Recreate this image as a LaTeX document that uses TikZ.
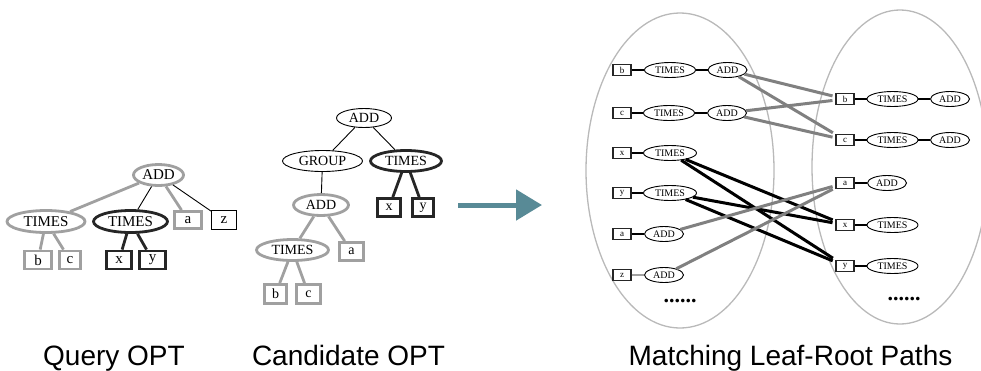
\documentclass[tikz,border=0pt]{standalone}
\usepackage{fontspec}
\setmainfont{Liberation Serif}
\setsansfont{Liberation Sans}
\usetikzlibrary{shapes.geometric,arrows.meta}
\definecolor{tgray}{RGB}{160,160,160}
\definecolor{tdark}{RGB}{38,38,38}
\definecolor{lgray}{RGB}{128,128,128}
\definecolor{ovalc}{RGB}{185,185,185}
\definecolor{arrowc}{RGB}{88,138,150}
\begin{document}
\begin{tikzpicture}[x=1pt,y=-1pt,
  tnode/.style={inner sep=0pt, font=\fontsize{14}{14}\selectfont},
  qfont/.style={font=\fontsize{15}{15}\selectfont},
  sz/.style 2 args={minimum width=#1pt, minimum height=#2pt},
  gel/.style={tnode, ellipse, draw=tgray, line width=2.8pt},
  del/.style={tnode, ellipse, draw=tdark, line width=2.8pt},
  nel/.style={tnode, ellipse, draw=black, line width=0.9pt},
  gbox/.style={tnode, rectangle, draw=tgray, line width=2.8pt},
  dbox/.style={tnode, rectangle, draw=tdark, line width=2.8pt},
  nbox/.style={tnode, rectangle, draw=black, line width=0.9pt},
  gthick/.style={draw=tgray, line width=2.8pt},
  dthick/.style={draw=tdark, line width=2.8pt},
  thin/.style={draw=black, line width=0.9pt},
  pnode/.style={inner sep=0pt, font=\fontsize{10}{10}\selectfont, draw=black, line width=0.9pt},
  pel/.style={pnode, ellipse, sz={#1}{15}},
  pbox/.style={pnode, rectangle, draw=tdark, line width=1.1pt, sz={18}{11.5}, font=\fontsize{9}{9}\selectfont},
  rowline/.style={draw=black, line width=1.2pt},
  graylink/.style={draw=lgray, line width=3pt, shorten >=3pt},
  blacklink/.style={draw=black, line width=3pt, shorten >=3pt},
  oval/.style={draw=ovalc, line width=1.3pt},
  dots/.style={inner sep=0pt, font=\fontsize{22}{22}\selectfont\bfseries},
  caption/.style={anchor=base, inner sep=0pt, font=\sffamily\fontsize{28}{28}\selectfont}
]
\useasboundingbox (0,0) rectangle (981,370);

% ---------- query tree ----------
\node[gel, qfont, sz={50}{21}] (qadd) at (158.5,175) {ADD};
\node[gel, qfont, sz={78}{22}] (qt1) at (46,221.5) {TIMES};
\node[del, qfont, sz={74}{22}] (qt2) at (130.5,221.5) {TIMES};
\node[gbox, qfont, sz={27}{17}] (qa) at (188,220) {a};
\node[nbox, qfont, sz={25}{19}] (qz) at (224,220) {z};
\node[gbox, qfont, sz={27}{18}] (qb) at (38,260) {b};
\node[gbox, qfont, sz={21}{18}] (qc) at (70,260) {c};
\node[dbox, qfont, sz={25}{18}] (qx) at (119,260) {x};
\node[dbox, qfont, sz={26}{18}] (qy) at (152.5,260) {y};
\draw[gthick] (qadd) -- (qt1);
\draw[thin] (qadd) -- (qt2);
\draw[gthick] (qadd) -- (qa);
\draw[thin] (qadd) -- (qz);
\draw[gthick] (qt1) -- (qb);
\draw[gthick] (qt1) -- (qc);
\draw[dthick] (qt2) -- (qx);
\draw[dthick] (qt2) -- (qy);

% ---------- candidate tree ----------
\node[nel, sz={55}{19}] (cadd) at (364,118) {ADD};
\node[nel, sz={80}{21}] (cgrp) at (322.5,161) {GROUP};
\node[del, sz={71}{21}] (ct) at (406,161) {TIMES};
\node[gel, sz={55}{21}] (cadd2) at (321,205) {ADD};
\node[gel, sz={72}{21}] (ct2) at (292.5,250) {TIMES};
\node[gbox, sz={24}{18}] (ca) at (351.5,251.5) {a};
\node[dbox, sz={23}{18}] (cx) at (389,207.5) {x};
\node[dbox, sz={21}{18}] (cy) at (423,207.5) {y};
\node[gbox, sz={22}{19}] (cb) at (275.5,294) {b};
\node[gbox, sz={24}{19}] (cc) at (308.5,294) {c};
\draw[thin] (cadd) -- (cgrp);
\draw[thin] (cadd) -- (ct);
\draw[thin] (cgrp) -- (cadd2);
\draw[gthick] (cadd2) -- (ct2);
\draw[gthick] (cadd2) -- (ca);
\draw[gthick] (ct2) -- (cb);
\draw[gthick] (ct2) -- (cc);
\draw[dthick] (ct) -- (cx);
\draw[dthick] (ct) -- (cy);

% ---------- arrow ----------
\coordinate (arrs) at (458,205);
\coordinate (arre) at (542,205);
\draw[draw=arrowc, line width=5pt, -{Triangle[length=26pt, width=30pt, fill=arrowc]}] (arrs) -- (arre);

% ---------- leaf-root paths ----------
\draw[oval] (680,170.5) ellipse [x radius=94, y radius=157.5];
\draw[oval] (900,167) ellipse [x radius=88, y radius=157];

% left side paths
\node[pbox] (l1b) at (622,70) {b};
\node[pel=51] (l1t) at (670,70) {TIMES};
\node[pel=39] (l1a) at (727.5,70) {ADD};
\node[pbox] (l2b) at (622,113) {c};
\node[pel=51] (l2t) at (669,113) {TIMES};
\node[pel=39] (l2a) at (727,113) {ADD};
\node[pbox] (l3x) at (622,153) {x};
\node[pel=53] (l3t) at (670,153) {TIMES};
\node[pbox] (l4y) at (622,193) {y};
\node[pel=53] (l4t) at (670,193) {TIMES};
\node[pbox] (l5a) at (622,234) {a};
\node[pel=39] (l5d) at (664,234) {ADD};
\node[pbox] (l6z) at (622,275) {z};
\node[pel=39] (l6d) at (664,275) {ADD};
\draw[rowline] (l1b) -- (l1t) -- (l1a);
\draw[rowline] (l2b) -- (l2t) -- (l2a);
\draw[rowline] (l3x) -- (l3t);
\draw[rowline] (l4y) -- (l4t);
\draw[rowline] (l5a) -- (l5d);
\draw[draw=tgray, line width=1.2pt] (l6z) -- (l6d);
\node[dots] (ldots) at (680,301) {......};

% right side paths
\node[pbox] (r1b) at (845,99) {b};
\node[pel=51] (r1t) at (892.5,99) {TIMES};
\node[pel=39] (r1a) at (950,99) {ADD};
\node[pbox] (r2c) at (845,140) {c};
\node[pel=51] (r2t) at (892.5,140) {TIMES};
\node[pel=39] (r2a) at (950,140) {ADD};
\node[pbox] (r3a) at (845,183) {a};
\node[pel=39] (r3d) at (887,183) {ADD};
\node[pbox] (r4x) at (845,225) {x};
\node[pel=51] (r4t) at (892.5,225) {TIMES};
\node[pbox] (r5y) at (845,266) {y};
\node[pel=51] (r5t) at (892.5,266) {TIMES};
\draw[rowline] (r1b) -- (r1t) -- (r1a);
\draw[rowline] (r2c) -- (r2t) -- (r2a);
\draw[rowline] (r3a) -- (r3d);
\draw[rowline] (r4x) -- (r4t);
\draw[rowline] (r5y) -- (r5t);
\node[dots] (rdots) at (904,299) {......};

% matches between the two sides
\draw[graylink] (l1a) -- (r1b);
\draw[graylink] (l1a) -- (r2c);
\draw[graylink] (l2a) -- (r1b);
\draw[graylink] (l2a) -- (r2c);
\draw[blacklink] (l3t) -- (r4x);
\draw[blacklink] (l3t) -- (r5y);
\draw[blacklink] (l4t) -- (r4x);
\draw[blacklink] (l4t) -- (r5y);
\draw[graylink] (l5d) -- (r3a);
\draw[graylink] (l6d) -- (r3a);

% ---------- captions ----------
\node[caption] (capq) at (114,365) {Query OPT};
\node[caption] (capc) at (348.5,365) {Candidate OPT};
\node[caption] (capm) at (790.5,365) {Matching Leaf-Root Paths};
\end{tikzpicture}
\end{document}
